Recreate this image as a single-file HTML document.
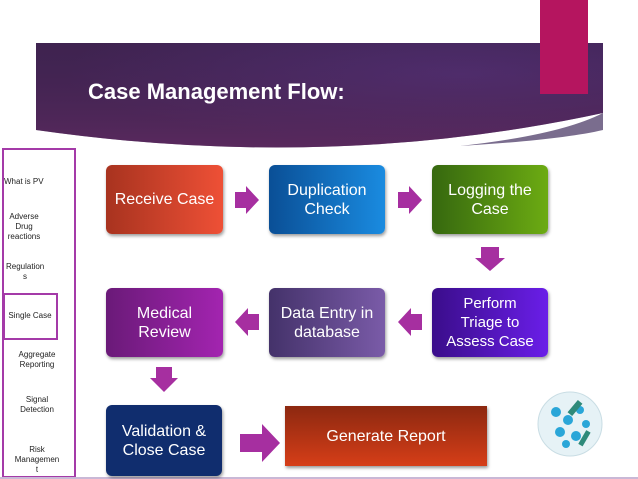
<!DOCTYPE html>
<html><head><style>
body{margin:0;width:638px;height:479px;background:#fff;position:relative;overflow:hidden;font-family:"Liberation Sans",sans-serif}
.a{position:absolute}
.box{position:absolute;color:#fff;display:flex;align-items:center;justify-content:center;text-align:center;border-radius:6px;font-size:16px;line-height:19px;box-shadow:1px 2px 3px rgba(0,0,0,.4)}
.side{position:absolute;font-size:8px;color:#222;text-align:center;line-height:10px}
</style></head><body>
<svg class="a" style="left:0;top:0" width="638" height="479">
<defs>
<radialGradient id="bg" cx="0.75" cy="0.3" r="0.7"><stop offset="0" stop-color="#4e2d6e"/><stop offset="1" stop-color="#3f2350"/></radialGradient>
<linearGradient id="bg2" x1="0" y1="0" x2="0" y2="1"><stop offset="0" stop-color="#4a2658" stop-opacity="0"/><stop offset="1" stop-color="#6a2d66" stop-opacity=".6"/></linearGradient>
</defs>
<path d="M460 146 Q560 135 603 113 V130 Q560 140 460 146Z" fill="#7a6d8e"/>
<path d="M36 43 H603 V113 Q330 172 36 130 Z" fill="url(#bg)"/>
<path d="M36 43 H603 V113 Q330 172 36 130 Z" fill="url(#bg2)"/>
<rect x="540" y="0" width="48" height="94" fill="#b5155f"/>
<g fill="#a62fa0">
<path d="M235 192 H246 V186 L259 200 L246 214 V208 H235Z"/>
<path d="M398 192 H409 V186 L422 200 L409 214 V208 H398Z"/>
<path d="M481 247 H499 V258 H505 L490 271 L475 258 H481Z"/>
<path d="M422 314 H411 V308 L398 322 L411 336 V330 H422Z"/>
<path d="M259 314 H248 V308 L235 322 L248 336 V330 H259Z"/>
<path d="M156 367 H172 V378 H178 L164 392 L150 378 H156Z"/>
<path d="M240 434 H262 V424 L280 443 L262 462 V452 H240Z"/>
</g>
<rect x="3" y="149" width="72" height="328" fill="none" stroke="#a43aa8" stroke-width="2"/>
<rect x="4" y="294" width="53" height="45" fill="none" stroke="#a43aa8" stroke-width="2"/>
<line x1="0" y1="478" x2="638" y2="478" stroke="#c9b8d6" stroke-width="2"/>
<circle cx="570" cy="424" r="32" fill="#e6f2f6" stroke="#c9dde4"/>
<g fill="#2aa6d8"><circle cx="556" cy="412" r="5"/><circle cx="568" cy="420" r="5"/><circle cx="580" cy="410" r="4"/><circle cx="560" cy="432" r="5"/><circle cx="576" cy="436" r="5"/><circle cx="586" cy="424" r="4"/><circle cx="566" cy="444" r="4"/></g>
<g fill="#2e8a7a"><rect x="572" y="400" width="6" height="16" transform="rotate(40 575 408)"/><rect x="582" y="430" width="5" height="16" transform="rotate(30 584 438)"/></g>
</svg>
<div class="a" style="left:88px;top:79px;color:#fff;font-weight:bold;font-size:22px">Case Management Flow:</div>
<div class="box" style="left:106px;top:165px;width:117px;height:69px;background:linear-gradient(90deg,#a8331f,#ee5036)">Receive Case</div>
<div class="box" style="left:269px;top:165px;width:116px;height:69px;background:linear-gradient(90deg,#0a4f96,#1a8be0)">Duplication<br>Check</div>
<div class="box" style="left:432px;top:165px;width:116px;height:69px;background:linear-gradient(90deg,#36680f,#6cab12)">Logging the<br>Case</div>
<div class="box" style="left:106px;top:288px;width:117px;height:69px;background:linear-gradient(90deg,#6a1a78,#a324b0)">Medical<br>Review</div>
<div class="box" style="left:269px;top:288px;width:116px;height:69px;background:linear-gradient(90deg,#44326a,#7a5ba8)">Data Entry in<br>database</div>
<div class="box" style="left:432px;top:288px;width:116px;height:69px;background:linear-gradient(90deg,#3a0d8a,#6a1ee8);font-size:15px;line-height:19px">Perform<br>Triage to<br>Assess Case</div>
<div class="box" style="left:106px;top:405px;width:116px;height:71px;background:#102d6e">Validation &amp;<br>Close Case</div>
<div class="box" style="left:285px;top:406px;width:202px;height:60px;border-radius:0;background:linear-gradient(180deg,#8c2810,#d63e18)">Generate Report</div>
<div class="side" style="left:4px;top:177px">What is PV</div>
<div class="side" style="left:6px;top:212px;width:36px">Adverse<br>Drug<br>reactions</div>
<div class="side" style="left:6px;top:262px;width:38px">Regulation<br>s</div>
<div class="side" style="left:5px;top:311px;width:50px">Single Case</div>
<div class="side" style="left:14px;top:350px;width:46px">Aggregate<br>Reporting</div>
<div class="side" style="left:14px;top:395px;width:46px">Signal<br>Detection</div>
<div class="side" style="left:14px;top:445px;width:46px">Risk<br>Managemen<br>t</div>
</body></html>
